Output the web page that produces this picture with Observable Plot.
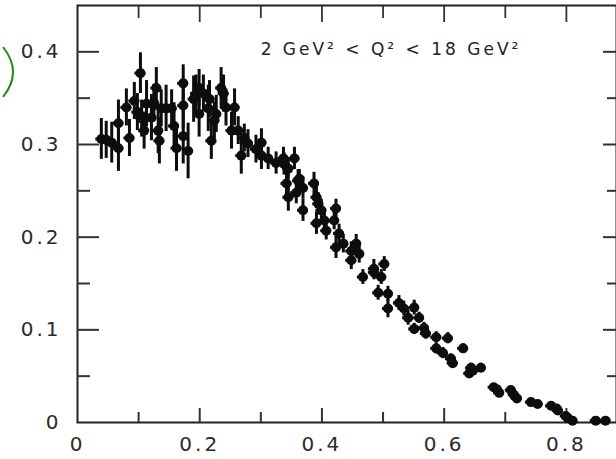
<!DOCTYPE html>
<html><head><meta charset="utf-8">
<script src="https://cdn.jsdelivr.net/npm/d3@7"></script>
<script src="https://cdn.jsdelivr.net/npm/@observablehq/plot@0.6"></script>
<style>
body{margin:0;background:#fff;}
#wrap{position:relative;width:616px;height:459px;overflow:hidden;background:#fff;}
#wrap svg text{letter-spacing:3px;}
#brace{position:absolute;left:0;top:0;}
</style></head><body><div id="wrap"></div>
<script>
// ---- data ----
const xVals = [
  0.039,0.047,0.056,0.067,0.067,0.080,0.085,0.103,0.093,0.113,0.109,0.105,0.129,0.121,0.132,0.137,0.145,0.154,0.162,0.173,0.173,0.181,0.190,0.194,0.199,
  0.134,0.173,0.214,0.224,0.098,0.158,0.125,
  0.206,0.199,0.216,0.235,0.239,0.227,0.219,0.243,0.257,0.252,0.263,0.273,0.268,0.279,0.292,0.301,0.301,0.312,0.325,0.337,0.355,0.345,0.363,
  0.338,0.342,0.345,0.361,0.358,0.369,0.369,0.387,0.391,0.394,0.399,0.391,0.404,0.407,0.423,0.420,0.428,0.423,0.435,0.448,0.456,0.461,0.448,0.502,0.485,
  0.485,0.497,0.467,0.492,0.508,0.508,0.526,0.534,0.551,0.541,0.559,0.551,0.567,0.570,0.587,0.606,0.587,0.598,0.611,0.614,0.631,0.644,0.660,0.641,
  0.647,0.681,0.690,0.709,0.714,0.742,0.753,0.775,0.786,0.802,0.810,0.848,0.864,0.686,0.719,0.784,0.799
];
const yVals = [
  0.306,0.305,0.302,0.296,0.323,0.340,0.307,0.377,0.347,0.344,0.315,0.328,0.361,0.329,0.315,0.339,0.339,0.339,0.296,0.366,0.309,0.293,0.349,0.355,0.333,
  0.304,0.342,0.339,0.326,0.335,0.320,0.345,
  0.355,0.361,0.349,0.361,0.355,0.333,0.304,0.340,0.340,0.315,0.315,0.307,0.288,0.301,0.295,0.302,0.288,0.285,0.280,0.285,0.285,0.274,0.263,
  0.279,0.258,0.243,0.261,0.248,0.253,0.229,0.258,0.243,0.236,0.229,0.215,0.218,0.207,0.231,0.218,0.204,0.189,0.193,0.185,0.193,0.182,0.175,0.171,0.166,
  0.162,0.157,0.157,0.140,0.139,0.123,0.129,0.123,0.124,0.113,0.113,0.101,0.102,0.096,0.092,0.091,0.080,0.075,0.069,0.064,0.080,0.059,0.059,0.053,
  0.056,0.038,0.032,0.035,0.030,0.022,0.020,0.018,0.013,0.005,0.002,0.002,0.002,0.036,0.026,0.015,0.007
];
const errVals = [
  0.022,0.020,0.022,0.025,0.025,0.020,0.020,0.022,0.020,0.025,0.020,0.020,0.022,0.025,0.025,0.020,0.025,0.020,0.025,0.020,0.030,0.030,0.025,0.020,0.025,
  0.025,0.025,0.025,0.020,0.020,0.025,0.020,
  0.020,0.020,0.020,0.022,0.020,0.020,0.020,0.020,0.020,0.020,0.015,0.015,0.020,0.015,0.015,0.015,0.015,0.012,0.012,0.012,0.012,0.012,0.010,
  0.012,0.012,0.015,0.012,0.012,0.012,0.012,0.012,0.012,0.012,0.012,0.012,0.012,0.010,0.010,0.010,0.010,0.012,0.010,0.010,0.010,0.010,0.010,0.008,0.010,
  0.008,0.008,0.008,0.008,0.008,0.010,0.008,0.008,0.008,0.008,0.006,0.006,0.006,0.006,0.006,0.006,0.006,0.006,0.005,0.005,0.005,0.005,0.005,0.005,
  0.004,0.004,0.004,0.004,0.004,0.004,0.004,0.004,0.004,0.004,0.004,0.004,0.004,0.004,0.004,0.004,0.004
];
const binHalfWidth = 0.009;
const xMajorTicks = [0, 0.2, 0.4, 0.6, 0.8];
const xMinorTicks = [0.1, 0.3, 0.5, 0.7];
const yMajorTicks = [0, 0.1, 0.2, 0.3, 0.4];
const yMinorTicks = [0.05, 0.15, 0.25, 0.35];
const annotation = "2 GeV² < Q² < 18 GeV²";

// ---- chart ----
const data = xVals.map((x, i) => ({x, y: yVals[i], e: errVals[i]}));
const fmt = d => d === 0 ? "0" : d.toFixed(1);
const ink = "#0d0d0d";

const chart = Plot.plot({
  width: 616, height: 459,
  marginLeft: 77, marginRight: 0, marginTop: 5, marginBottom: 37,
  x: {domain: [0, 0.882], label: null},
  y: {domain: [0, 0.45], label: null},
  style: {fontFamily: "DejaVu Sans", fontSize: "20px", background: "white", color: ink},
  marks: [
    Plot.frame({stroke: "#222", strokeWidth: 2}),
    // inward ticks
    Plot.axisX(xMajorTicks.filter(d => d > 0), {anchor: "bottom", tickSize: -14, fill: "none", stroke: "#333", strokeWidth: 2}),
    Plot.axisX(xMinorTicks, {anchor: "bottom", tickSize: -10, fill: "none", stroke: "#333", strokeWidth: 2}),
    Plot.axisX(xMajorTicks.filter(d => d > 0), {anchor: "top", tickSize: -16, fill: "none", stroke: "#333", strokeWidth: 1.8}),
    Plot.axisX(xMinorTicks, {anchor: "top", tickSize: -12, fill: "none", stroke: "#333", strokeWidth: 1.8}),
    Plot.axisY(yMajorTicks.filter(d => d > 0), {anchor: "left", tickSize: -22, fill: "none", stroke: "#333", strokeWidth: 2}),
    Plot.axisY(yMinorTicks, {anchor: "left", tickSize: -13, fill: "none", stroke: "#333", strokeWidth: 2}),
    Plot.axisY(yMajorTicks.filter(d => d > 0), {anchor: "right", tickSize: -14, fill: "none", stroke: "#333", strokeWidth: 2}),
    Plot.axisY(yMinorTicks, {anchor: "right", tickSize: -10, fill: "none", stroke: "#333", strokeWidth: 2}),
    // labels
    Plot.axisX(xMajorTicks, {anchor: "bottom", tickSize: 0, tickPadding: 14, tickFormat: fmt, fontSize: 20, fill: "#2a2a2a"}),
    Plot.axisY(yMajorTicks, {anchor: "left", tickSize: 0, tickPadding: 16, tickFormat: fmt, fontSize: 20, fill: "#2a2a2a"}),
    // data
    Plot.ruleX(data, {x: "x", y1: d => d.y - d.e, y2: d => d.y + d.e, stroke: ink, strokeWidth: 3}),
    Plot.ruleY(data, {y: "y", x1: d => d.x - binHalfWidth, x2: d => d.x + binHalfWidth, stroke: ink, strokeWidth: 3}),
    Plot.dot(data, {x: "x", y: "y", r: 5, fill: ink, stroke: "none"}),
    Plot.text([annotation], {x: 0.513, y: 0.402, text: d => d, fontSize: 17, fill: "#222"})
  ]
});
const wrap = document.getElementById("wrap");
wrap.appendChild(chart);
// decorative green bracket from the slide
wrap.insertAdjacentHTML("beforeend",
  '<svg id="brace" width="30" height="110"><path d="M3,47 Q23,72 3,97" fill="none" stroke="#1e8a1e" stroke-width="2"/></svg>');
</script></body></html>
